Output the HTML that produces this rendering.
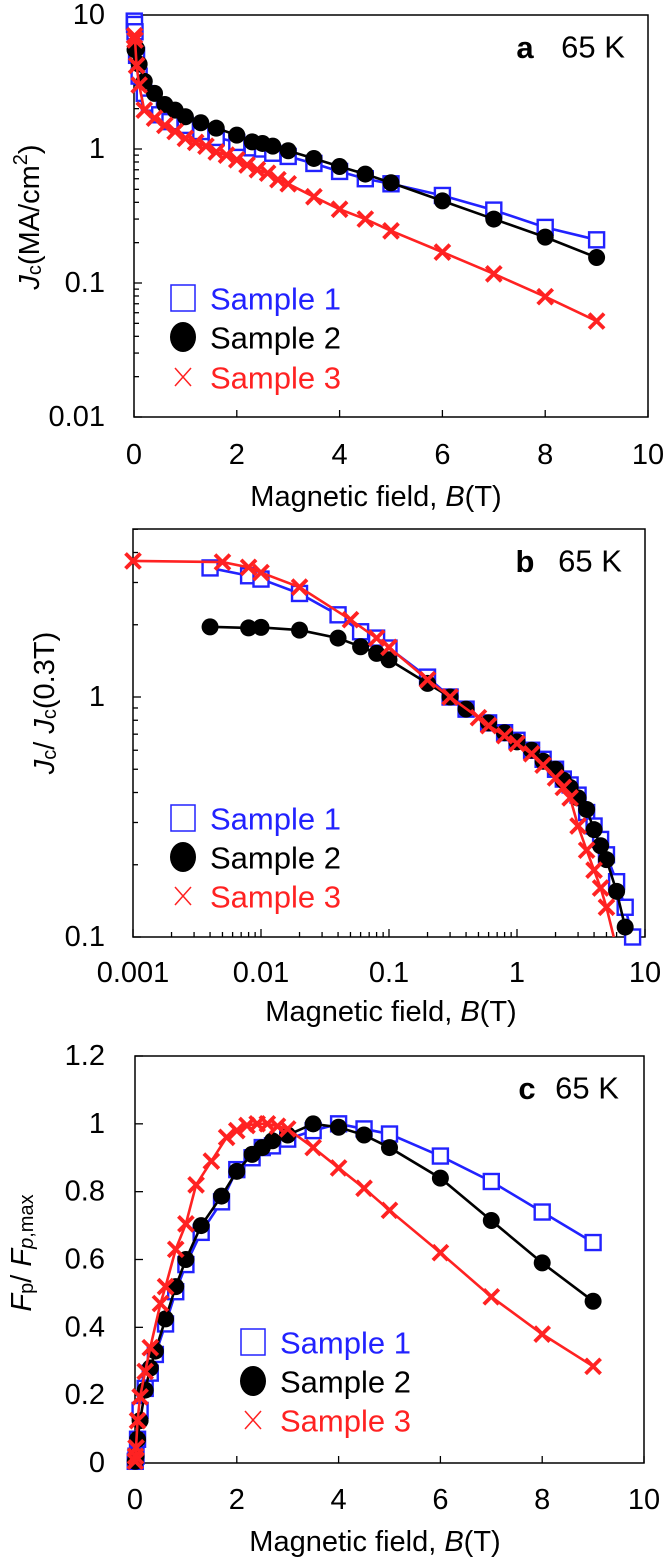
<!DOCTYPE html>
<html><head><meta charset="utf-8">
<style>
html,body{margin:0;padding:0;background:#fff;}
svg{display:block;font-family:"Liberation Sans",Arial,sans-serif;}
</style></head>
<body>
<svg id="fig" width="666" height="1560" viewBox="0 0 666 1560" xmlns="http://www.w3.org/2000/svg"></svg>
<script>
// Panel a data (B in T, Jc in MA/cm2)
const aS1x=[0.005,0.01,0.02,0.05,0.1,0.2,0.3,0.5,0.7,1,1.3,1.6,2,2.3,2.5,2.7,3,3.5,4,4.5,5,6,7,8,9];
const aS1y=[9,8.5,7.5,5,3.5,2.6,2.2,1.8,1.6,1.5,1.35,1.22,1.12,1.02,1.0,0.93,0.88,0.78,0.68,0.6,0.55,0.45,0.35,0.26,0.21];
const aS2x=[0.02,0.05,0.1,0.2,0.4,0.6,0.8,1,1.3,1.6,2,2.3,2.5,2.7,3,3.5,4,4.5,5,6,7,8,9];
const aS2y=[5.5,5.6,4.3,3.2,2.6,2.15,1.95,1.74,1.57,1.43,1.27,1.13,1.1,1.05,0.97,0.85,0.74,0.65,0.56,0.41,0.3,0.22,0.155];
const aS3x=[0.01,0.02,0.05,0.1,0.2,0.4,0.6,0.8,1,1.2,1.4,1.6,1.8,2,2.2,2.4,2.6,2.8,3,3.5,4,4.5,5,6,7,8,9];
const aS3y=[7,6.5,4.2,3,1.95,1.7,1.5,1.35,1.2,1.12,1.05,0.95,0.9,0.83,0.76,0.7,0.66,0.59,0.55,0.44,0.355,0.3,0.245,0.17,0.117,0.079,0.052];
// Panel b data (B in T, Jc/Jc(0.3T))
const bS1x=[0.004,0.008,0.01,0.02,0.04,0.06,0.08,0.1,0.2,0.3,0.4,0.6,0.8,1,1.3,1.6,2,2.3,2.6,3,3.5,4,4.5,5,6,7,8];
const bS1y=[3.45,3.2,3.1,2.7,2.2,1.87,1.76,1.6,1.21,1.0,0.89,0.78,0.71,0.66,0.6,0.55,0.5,0.455,0.43,0.39,0.33,0.29,0.255,0.22,0.17,0.133,0.1];
const bS2x=[0.004,0.008,0.01,0.02,0.04,0.06,0.08,0.1,0.2,0.3,0.4,0.6,0.8,1,1.3,1.6,2,2.3,2.6,3,3.5,4,4.5,5,6,7];
const bS2y=[1.96,1.94,1.95,1.9,1.76,1.62,1.52,1.43,1.14,1.0,0.89,0.78,0.71,0.65,0.6,0.54,0.5,0.45,0.42,0.38,0.34,0.28,0.24,0.21,0.155,0.11];
const bS3x=[0.001,0.005,0.008,0.01,0.02,0.05,0.08,0.1,0.2,0.3,0.5,0.6,0.8,1,1.3,1.6,2,2.3,2.6,3,3.5,4,4.5,5];
const bS3y=[3.69,3.65,3.47,3.3,2.87,2.1,1.76,1.61,1.18,1.0,0.82,0.76,0.69,0.64,0.58,0.52,0.46,0.42,0.38,0.29,0.23,0.19,0.16,0.133];
const bS3fitX=[5,5.7];
const bS3fitY=[0.133,0.1];
// Panel c data (B in T, Fp/Fp,max)
const cS1x=[0.005,0.02,0.05,0.1,0.2,0.3,0.4,0.6,0.8,1,1.3,1.7,2,2.3,2.5,2.7,3,3.5,4,4.5,5,6,7,8,9];
const cS1y=[0.005,0.02,0.07,0.155,0.22,0.265,0.32,0.41,0.505,0.585,0.68,0.77,0.865,0.9,0.93,0.935,0.955,0.98,1.0,0.985,0.97,0.905,0.83,0.74,0.65];
const cS2x=[0.005,0.02,0.05,0.1,0.2,0.3,0.4,0.6,0.8,1,1.3,1.7,2,2.3,2.5,2.7,3,3.5,4,4.5,5,6,7,8,9];
const cS2y=[0.005,0.02,0.07,0.125,0.215,0.28,0.33,0.425,0.52,0.6,0.7,0.787,0.86,0.91,0.93,0.95,0.967,1.0,0.99,0.967,0.93,0.84,0.715,0.59,0.477];
const cS3x=[0.005,0.01,0.02,0.05,0.1,0.2,0.3,0.5,0.6,0.8,1,1.2,1.5,1.8,2,2.2,2.4,2.6,2.8,3,3.5,4,4.5,5,6,7,8,9];
const cS3y=[0.005,0.02,0.045,0.125,0.195,0.27,0.34,0.47,0.52,0.63,0.705,0.82,0.89,0.96,0.98,0.995,1.0,1.0,0.993,0.985,0.93,0.87,0.81,0.745,0.62,0.49,0.38,0.285];
const linTicksX=[0,2,4,6,8,10];
const logTicksA=[10,1,0.1,0.01];
const logTicksAlbl=["10","1","0.1","0.01"];
const logTicksBx=[0.001,0.01,0.1,1,10];
const logTicksBxlbl=["0.001","0.01","0.1","1","10"];
const logTicksBy=[1,0.1];
const logTicksBylbl=["1","0.1"];
const linTicksC=[0,0.2,0.4,0.6,0.8,1,1.2];
const linTicksClbl=["0","0.2","0.4","0.6","0.8","1","1.2"];

const NS="http://www.w3.org/2000/svg";
const svg=document.getElementById('fig');
const BLUE="#2222ff",RED="#ff2222",BLACK="#000";
const LBLX=105;
function mk(tag,attrs,parent){const e=document.createElementNS(NS,tag);for(const k in attrs)e.setAttribute(k,attrs[k]);(parent||svg).appendChild(e);return e;}
function txt(s,x,y,size,anchor,parent,extra){const t=mk('text',Object.assign({x:x,y:y,'font-size':size,'text-anchor':anchor||'middle','dominant-baseline':'central'},extra||{}),parent);t.innerHTML=s;return t;}

function linScale(d0,d1,r0,r1){return v=>r0+(v-d0)/(d1-d0)*(r1-r0);}
function logScale(d0,d1,r0,r1){return v=>r0+(Math.log10(v)-Math.log10(d0))/(Math.log10(d1)-Math.log10(d0))*(r1-r0);}

function series(g,xs,ys,X,Y,kind,color,name,noLine){
  const pts=xs.map((x,i)=>[X(x),Y(ys[i])]);
  if(!noLine){
    const pl=mk('polyline',{points:pts.map(p=>p.join(',')).join(' '),fill:'none',stroke:color,'stroke-width':2.6},g);
    
    
  }
  pts.forEach(p=>marker(g,p[0],p[1],kind,color,name+'-point'));
}
function marker(g,x,y,kind,color,name){
  let m;
  if(kind==='sq'){m=mk('rect',{x:x-7.5,y:y-7.5,width:15,height:15,fill:'#fff',stroke:color,'stroke-width':2.4},g);}
  else if(kind==='ci'){m=mk('circle',{cx:x,cy:y,r:8.5,fill:'#000'},g);}
  else {m=mk('path',{d:`M${x-7.5},${y-7.5}L${x+7.5},${y+7.5}M${x-7.5},${y+7.5}L${x+7.5},${y-7.5}`,stroke:color,'stroke-width':3.8,fill:'none'},g);}
  
  
}
function legend(g,x,ys,textX){
  const items=[['sq',BLUE,'Sample 1'],['ci',BLACK,'Sample 2'],['cr',RED,'Sample 3']];
  items.forEach((it,i)=>{
    const lg=mk('g',{},g);
    
    
    if(it[0]==='sq'){mk('rect',{x:x-12,y:ys[i]-13,width:24,height:26,fill:'none',stroke:BLUE,'stroke-width':1.5},lg);}
    else if(it[0]==='ci'){mk('ellipse',{cx:x,cy:ys[i],rx:13,ry:15,fill:'#000'},lg);}
    else {mk('path',{d:`M${x-8},${ys[i]-9}L${x+8},${ys[i]+9}M${x-8},${ys[i]+9}L${x+8},${ys[i]-9}`,stroke:RED,'stroke-width':1.5},lg);}
    txt(it[2],textX,ys[i]+1,31,'start',lg,{fill:it[1]});
  });
}
function frame(g,L,T,R,B){
  const r=mk('rect',{x:L,y:T,width:R-L,height:B-T,fill:'none',stroke:'#000','stroke-width':1.5},g);
  
  
}
function tick(g,x1,y1,x2,y2){mk('line',{x1:x1,y1:y1,x2:x2,y2:y2,stroke:'#000','stroke-width':1.3},g);}

// ---------- Panel a ----------
(function(){
  const L=134,T=15,R=648,B=417;
  const g=mk('g',{});
  
  
  const X=linScale(0,10,L,R), Y=logScale(10,0.01,T,B);
  frame(g,L,T,R,B);
  linTicksX.forEach(v=>{tick(g,X(v),B,X(v),B-7);txt(String(v),X(v),455,29,'middle',g);});
  logTicksA.forEach((v,i)=>{tick(g,L,Y(v),L+8,Y(v));txt(logTicksAlbl[i],LBLX,Y(v),29,'end',g);});
  [0.01,0.1,1].forEach(d=>{for(let k=2;k<10;k++){tick(g,L,Y(d*k),L+5,Y(d*k));}});
  const cl=mk('g',{},g);
  series(cl,aS1x,aS1y,X,Y,'sq',BLUE,'sample-1');
  series(cl,aS2x,aS2y,X,Y,'ci',BLACK,'sample-2');
  series(cl,aS3x,aS3y,X,Y,'cr',RED,'sample-3');
  txt('<tspan font-weight="bold">a</tspan>',525,47,31,'middle',g);
  txt('65 K',593,47,31,'middle',g);
  legend(g,183,[298,337,377],210);
  const xt=txt('Magnetic field, <tspan font-style="italic">B</tspan>(T)',376,497,29,'middle',g);
  
  const yt=txt('<tspan font-style="italic">J</tspan><tspan font-size="20" dy="5">c</tspan><tspan dy="-5">(MA/cm</tspan><tspan font-size="20" dy="-9">2</tspan><tspan dy="9">)</tspan>',0,0,29,'middle',g,{transform:'translate(30,217) rotate(-90)'});
  
})();

// ---------- Panel b ----------
(function(){
  const L=133,T=529,R=645,B=937;
  const g=mk('g',{});
  
  
  const X=logScale(0.001,10,L,R), Y=logScale(1,0.1,697,B);
  frame(g,L,T,R,B);
  logTicksBx.forEach((v,i)=>{tick(g,X(v),B,X(v),B-8);txt(logTicksBxlbl[i],X(v),973,29,'middle',g);});
  [0.001,0.01,0.1,1].forEach(d=>{for(let k=2;k<10;k++){tick(g,X(d*k),B,X(d*k),B-5);}});
  logTicksBy.forEach((v,i)=>{tick(g,L,Y(v),L+8,Y(v));txt(logTicksBylbl[i],LBLX,Y(v),29,'end',g);});
  for(let k=2;k<=5;k++){tick(g,L,Y(0.1*k),L+5,Y(0.1*k));tick(g,L,Y(k),L+5,Y(k));}
  for(let k=6;k<10;k++){tick(g,L,Y(0.1*k),L+5,Y(0.1*k));}
  const cl=mk('g',{},g);
  series(cl,bS1x,bS1y,X,Y,'sq',BLUE,'sample-1');
  series(cl,bS2x,bS2y,X,Y,'ci',BLACK,'sample-2');
  series(cl,bS3x,bS3y,X,Y,'cr',RED,'sample-3');
  const fit=mk('polyline',{points:bS3fitX.map((x,i)=>X(x)+','+Y(bS3fitY[i])).join(' '),fill:'none',stroke:RED,'stroke-width':2.6},cl);
  
  
  txt('<tspan font-weight="bold">b</tspan>',525,561,31,'middle',g);
  txt('65 K',590,561,31,'middle',g);
  legend(g,183,[818,857,896],210);
  const xt=txt('Magnetic field, <tspan font-style="italic">B</tspan>(T)',391,1012,29,'middle',g);
  
  const yt=txt('<tspan font-style="italic">J</tspan><tspan font-size="20" dy="5">c</tspan><tspan dy="-5">/ </tspan><tspan font-style="italic">J</tspan><tspan font-size="20" dy="5">c</tspan><tspan dy="-5">(0.3T)</tspan>',0,0,29,'middle',g,{transform:'translate(45,703) rotate(-90)'});
  
})();

// ---------- Panel c ----------
(function(){
  const L=135,T=1056,R=644,B=1463;
  const g=mk('g',{});
  
  
  const X=linScale(0,10,L,R), Y=linScale(0,1.2,B,T);
  frame(g,L,T,R,B);
  linTicksX.forEach(v=>{tick(g,X(v),B,X(v),B-7);txt(String(v),X(v),1500,29,'middle',g);});
  linTicksC.forEach((v,i)=>{tick(g,L,Y(v),L+8,Y(v));txt(linTicksClbl[i],LBLX,Y(v),29,'end',g);});
  const cl=mk('g',{},g);
  series(cl,cS1x,cS1y,X,Y,'sq',BLUE,'sample-1');
  series(cl,cS2x,cS2y,X,Y,'ci',BLACK,'sample-2');
  series(cl,cS3x,cS3y,X,Y,'cr',RED,'sample-3');
  txt('<tspan font-weight="bold">c</tspan>',527,1088,31,'middle',g);
  txt('65 K',587,1088,31,'middle',g);
  legend(g,253,[1342,1381,1420],280);
  const xt=txt('Magnetic field, <tspan font-style="italic">B</tspan>(T)',375,1542,29,'middle',g);
  
  const yt=txt('<tspan font-style="italic">F</tspan><tspan font-size="20" dy="5">p</tspan><tspan dy="-5">/ </tspan><tspan font-style="italic">F</tspan><tspan font-size="20" dy="5"><tspan font-style="italic">p</tspan>,max</tspan>',0,0,29,'middle',g,{transform:'translate(22,1253) rotate(-90)'});
  
})();
</script>
</body></html>
